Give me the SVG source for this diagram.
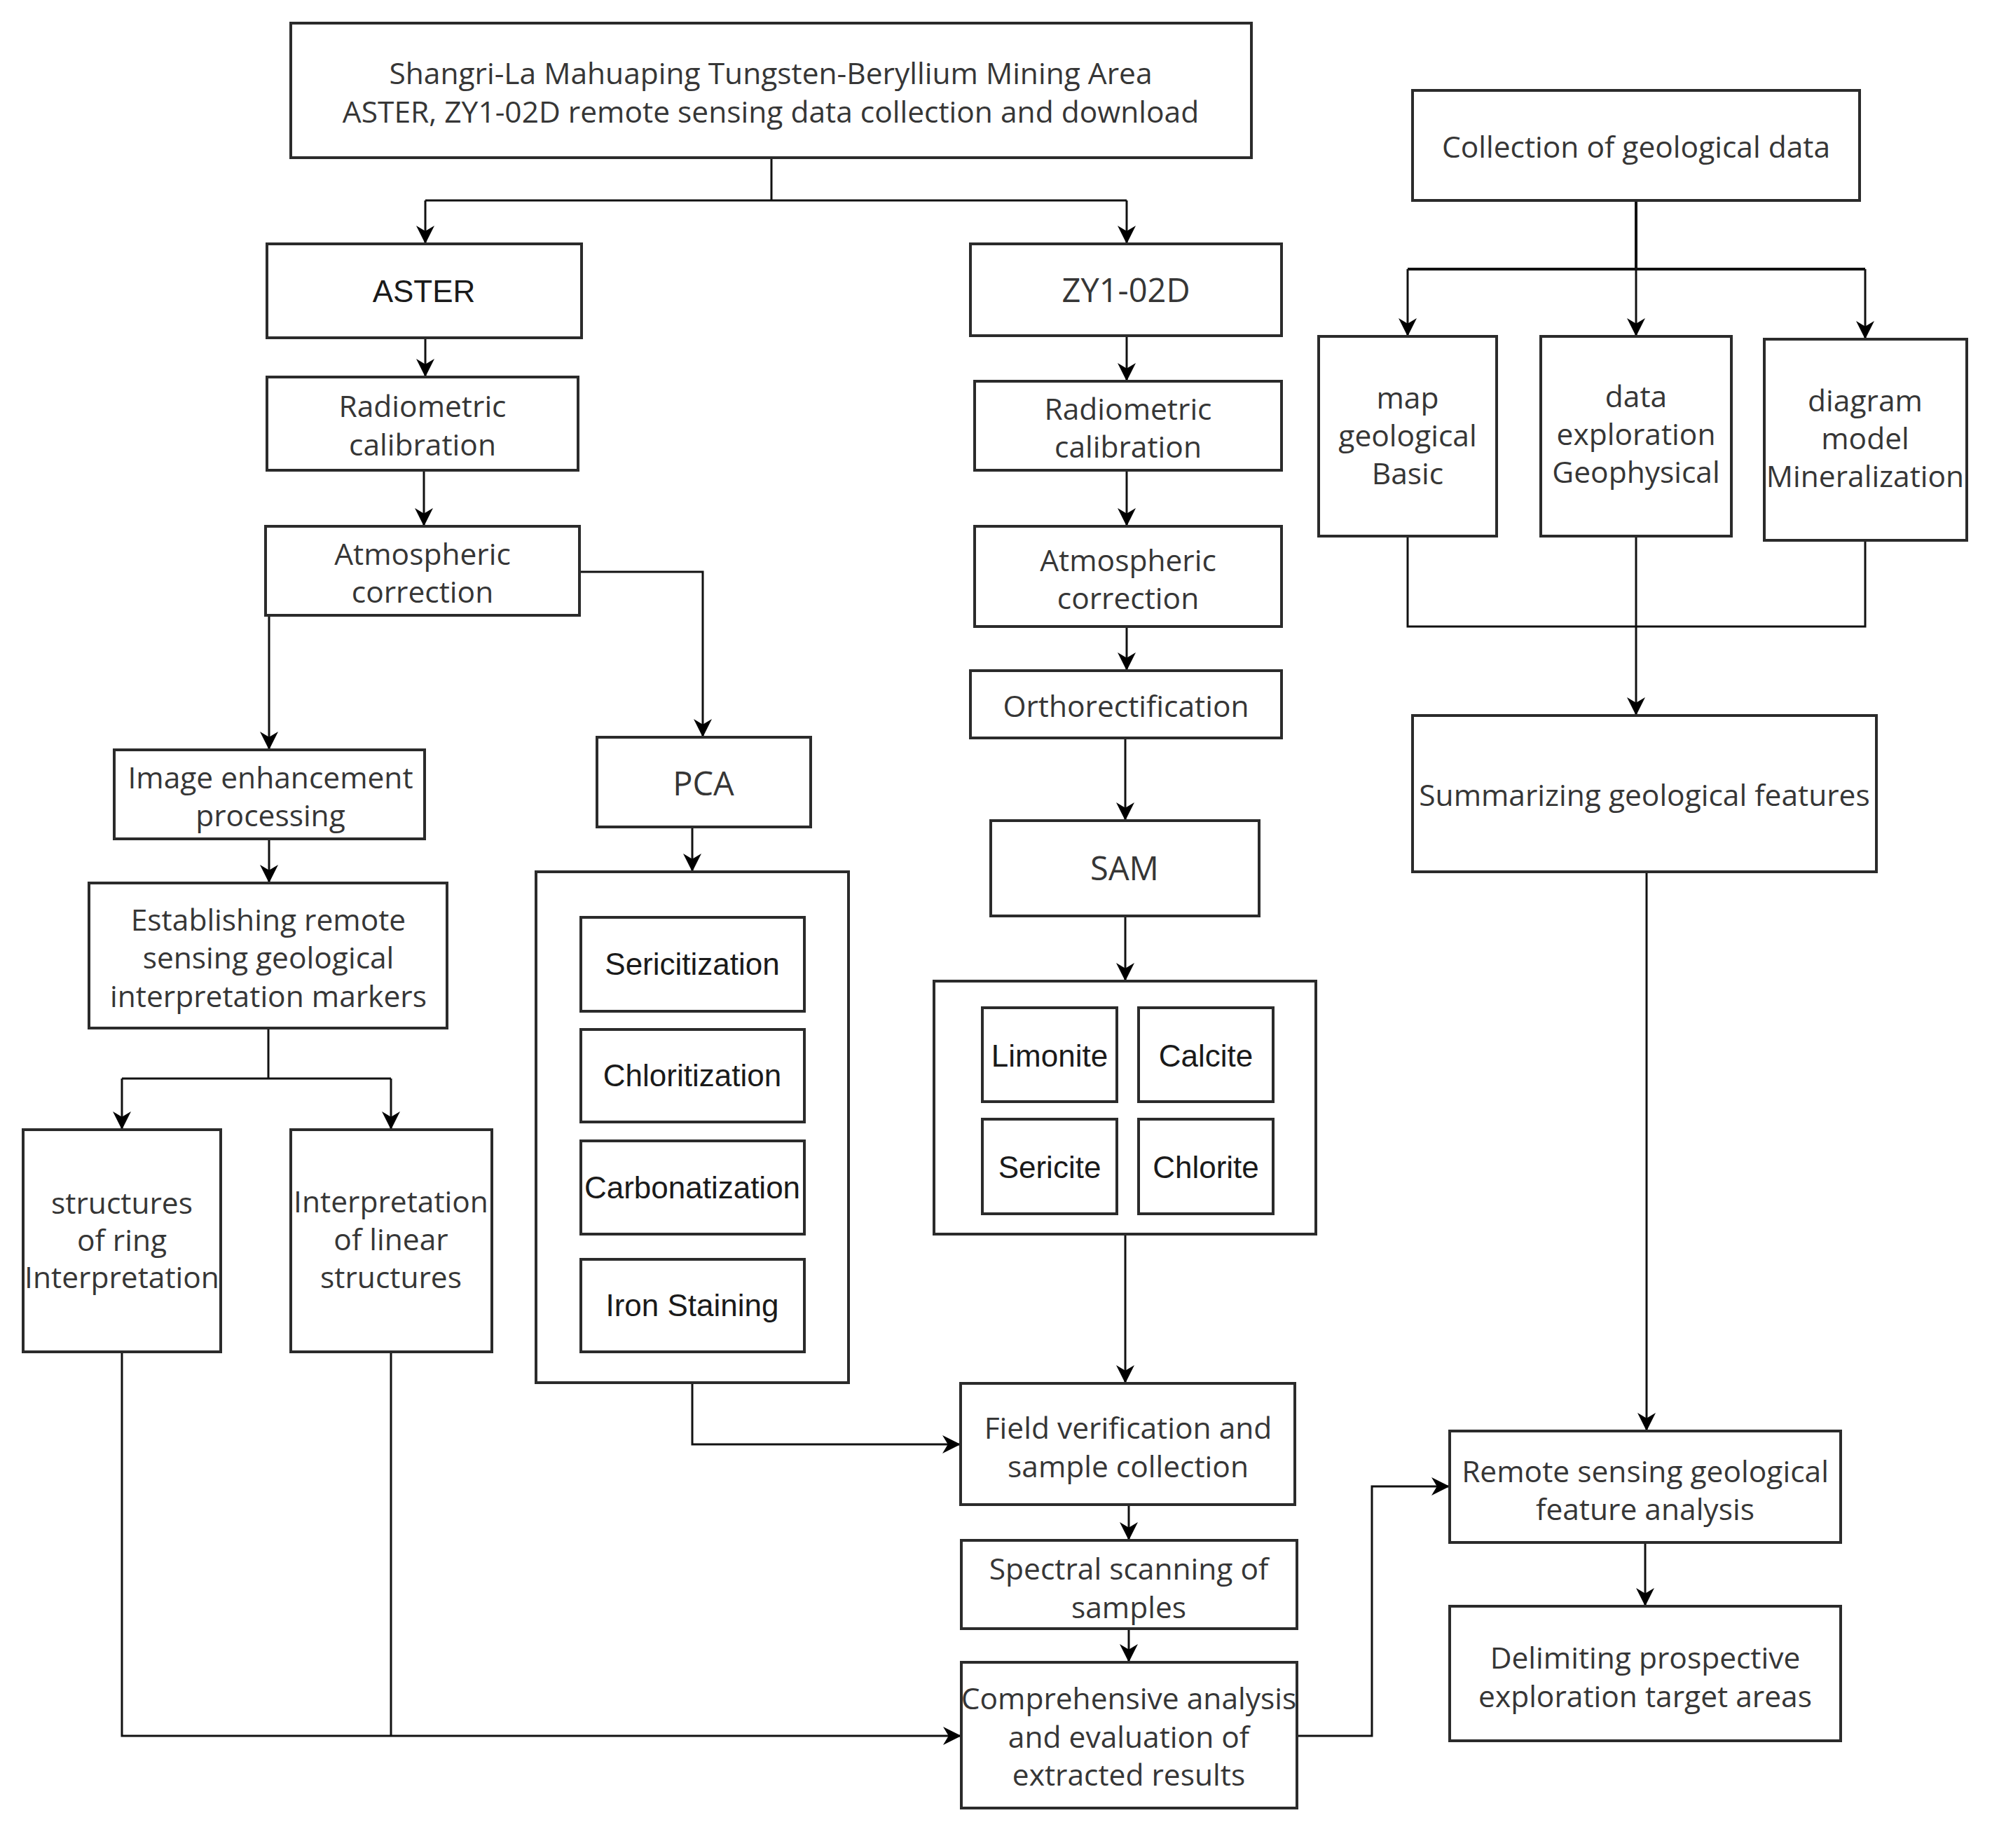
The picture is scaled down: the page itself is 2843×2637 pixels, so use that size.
<svg xmlns="http://www.w3.org/2000/svg" width="2843" height="2637" viewBox="0 0 2843 2637">
<defs>
<marker id="arr" viewBox="0 0 10 10" refX="10" refY="5" markerWidth="30" markerHeight="26" markerUnits="userSpaceOnUse" orient="auto">
<path d="M0,0 L10,5 L0,10 L3,5 z" fill="#000"/>
</marker>
<style>
.box{fill:#fff;stroke:#2b2b2b;stroke-width:4}
.t{font-family:"Open Sans","Noto Sans","DejaVu Sans",sans-serif;font-size:42.5px;fill:#363636;text-anchor:middle;dominant-baseline:central}
.big{font-size:47px}
.a{font-family:"Liberation Sans",Arial,sans-serif;font-size:44px;fill:#1a1a1a;text-anchor:middle;dominant-baseline:central}
.c{fill:none;stroke:#111;stroke-width:3}
.ar{marker-end:url(#arr)}
</style>
</defs>
<rect width="2843" height="2637" fill="#fff"/>
<g id="connectors">
<path class="c" d="M1101,225 V286 M607,286 H1608"/>
<path class="c ar" d="M607,286 V348"/>
<path class="c ar" d="M1608,286 V348"/>
<path class="c ar" d="M607,482 V538"/>
<path class="c ar" d="M605,671 V751"/>
<path class="c ar" d="M384,878 V1070"/>
<path class="c ar" d="M827,816 H1003 V1052"/>
<path class="c ar" d="M988,1180 V1244"/>
<path class="c ar" d="M384,1197 V1260"/>
<path class="c" d="M383,1467 V1539 M174,1539 H558"/>
<path class="c ar" d="M174,1539 V1612"/>
<path class="c ar" d="M558,1539 V1612"/>
<path class="c" d="M558,1929 V2477"/>
<path class="c ar" d="M174,1929 V2477 H1372"/>
<path class="c ar" d="M988,1973 V2061 H1371"/>
<path class="c ar" d="M1608,479 V544"/>
<path class="c ar" d="M1608,671 V751"/>
<path class="c ar" d="M1608,894 V957"/>
<path class="c ar" d="M1606,1053 V1171"/>
<path class="c ar" d="M1606,1307 V1400"/>
<path class="c ar" d="M1606,1761 V1974"/>
<path class="c ar" d="M1611,2147 V2198"/>
<path class="c ar" d="M1611,2324 V2372"/>
<path class="c ar" d="M1851,2477 H1958 V2121 H2069"/>
<path class="c" d="M2335,286 V384 M2009,384 H2662" style="stroke-width:4"/>
<path class="c ar" d="M2009,384 V480"/>
<path class="c ar" d="M2335,384 V480"/>
<path class="c ar" d="M2662,384 V484"/>
<path class="c" d="M2009,765 V894 H2662 V771"/>
<path class="c ar" d="M2335,765 V1021"/>
<path class="c ar" d="M2350,1244 V2042"/>
<path class="c ar" d="M2348,2201 V2292"/>
</g>
<g id="top"><rect class="box" x="415" y="33" width="1371" height="192"/>
<text class="t" x="1100" y="103">Shangri-La Mahuaping Tungsten-Beryllium Mining Area</text>
<text class="t" x="1100" y="158">ASTER, ZY1-02D remote sensing data collection and download</text></g>
<g id="aster"><rect class="box" x="381" y="348" width="449" height="134"/><text class="a" x="605" y="415">ASTER</text></g>
<g id="zy"><rect class="box" x="1385" y="348" width="444" height="131"/><text class="t big" x="1607" y="413">ZY1-02D</text></g>
<g id="rad1"><rect class="box" x="381" y="538" width="444" height="133"/><text class="t" x="603" y="578">Radiometric</text><text class="t" x="603" y="633">calibration</text></g>
<g id="atm1"><rect class="box" x="379" y="751" width="448" height="127"/><text class="t" x="603" y="789">Atmospheric</text><text class="t" x="603" y="843">correction</text></g>
<g id="img"><rect class="box" x="163" y="1070" width="443" height="127"/><text class="t" x="386" y="1108">Image enhancement</text><text class="t" x="386" y="1162">processing</text></g>
<g id="est"><rect class="box" x="127" y="1260" width="511" height="207"/><text class="t" x="383" y="1311">Establishing remote</text><text class="t" x="383" y="1365">sensing geological</text><text class="t" x="383" y="1420">interpretation markers</text></g>
<g id="ring"><rect class="box" x="33" y="1612" width="282" height="317"/><text class="t" x="174" y="1715">structures</text><text class="t" x="174" y="1768">of ring</text><text class="t" x="174" y="1821">Interpretation</text></g>
<g id="linear"><rect class="box" x="415" y="1612" width="287" height="317"/><text class="t" x="558" y="1713">Interpretation</text><text class="t" x="558" y="1767">of linear</text><text class="t" x="558" y="1821">structures</text></g>
<g id="pca"><rect class="box" x="852" y="1052" width="305" height="128"/><text class="t big" x="1004" y="1117">PCA</text></g>
<g id="pca-group"><rect class="box" x="765" y="1244" width="446" height="729"/></g>
<g id="sericitization"><rect class="box" x="829" y="1309" width="319" height="134"/><text class="a" x="988" y="1375">Sericitization</text></g>
<g id="chloritization"><rect class="box" x="829" y="1469" width="319" height="132"/><text class="a" x="988" y="1534">Chloritization</text></g>
<g id="carbonatization"><rect class="box" x="829" y="1628" width="319" height="133"/><text class="a" x="988" y="1694">Carbonatization</text></g>
<g id="iron"><rect class="box" x="829" y="1797" width="319" height="132"/><text class="a" x="988" y="1862">Iron Staining</text></g>
<g id="rad2"><rect class="box" x="1391" y="544" width="438" height="127"/><text class="t" x="1610" y="582">Radiometric</text><text class="t" x="1610" y="636">calibration</text></g>
<g id="atm2"><rect class="box" x="1391" y="751" width="438" height="143"/><text class="t" x="1610" y="798">Atmospheric</text><text class="t" x="1610" y="852">correction</text></g>
<g id="ortho"><rect class="box" x="1385" y="957" width="444" height="96"/><text class="t" x="1607" y="1006">Orthorectification</text></g>
<g id="sam"><rect class="box" x="1414" y="1171" width="383" height="136"/><text class="t big" x="1605" y="1238">SAM</text></g>
<g id="sam-group"><rect class="box" x="1333" y="1400" width="545" height="361"/></g>
<g id="limonite"><rect class="box" x="1402" y="1438" width="192" height="134"/><text class="a" x="1498" y="1506">Limonite</text></g>
<g id="calcite"><rect class="box" x="1625" y="1438" width="192" height="134"/><text class="a" x="1721" y="1506">Calcite</text></g>
<g id="sericite"><rect class="box" x="1402" y="1597" width="192" height="135"/><text class="a" x="1498" y="1665">Sericite</text></g>
<g id="chlorite"><rect class="box" x="1625" y="1597" width="192" height="135"/><text class="a" x="1721" y="1665">Chlorite</text></g>
<g id="field"><rect class="box" x="1371" y="1974" width="477" height="173"/><text class="t" x="1610" y="2036">Field verification and</text><text class="t" x="1610" y="2091">sample collection</text></g>
<g id="spectral"><rect class="box" x="1372" y="2198" width="479" height="126"/><text class="t" x="1611" y="2237">Spectral scanning of</text><text class="t" x="1611" y="2292">samples</text></g>
<g id="comp"><rect class="box" x="1372" y="2372" width="479" height="208"/><text class="t" x="1611" y="2422">Comprehensive analysis</text><text class="t" x="1611" y="2477">and evaluation of</text><text class="t" x="1611" y="2531">extracted results</text></g>
<g id="collection"><rect class="box" x="2016" y="129" width="638" height="157"/><text class="t" x="2335" y="208">Collection of geological data</text></g>
<g id="map"><rect class="box" x="1882" y="480" width="254" height="285"/><text class="t" x="2009" y="566">map</text><text class="t" x="2009" y="620">geological</text><text class="t" x="2009" y="674">Basic</text></g>
<g id="geophys"><rect class="box" x="2199" y="480" width="272" height="285"/><text class="t" x="2335" y="564">data</text><text class="t" x="2335" y="618">exploration</text><text class="t" x="2335" y="672">Geophysical</text></g>
<g id="mineral"><rect class="box" x="2518" y="484" width="289" height="287"/><text class="t" x="2662" y="570">diagram</text><text class="t" x="2662" y="624">model</text><text class="t" x="2662" y="678">Mineralization</text></g>
<g id="summ"><rect class="box" x="2016" y="1021" width="662" height="223"/><text class="t" x="2347" y="1133">Summarizing geological features</text></g>
<g id="remote"><rect class="box" x="2069" y="2042" width="558" height="159"/><text class="t" x="2348" y="2098">Remote sensing geological</text><text class="t" x="2348" y="2152">feature analysis</text></g>
<g id="delim"><rect class="box" x="2069" y="2292" width="558" height="192"/><text class="t" x="2348" y="2364">Delimiting prospective</text><text class="t" x="2348" y="2419">exploration target areas</text></g>
</svg>
